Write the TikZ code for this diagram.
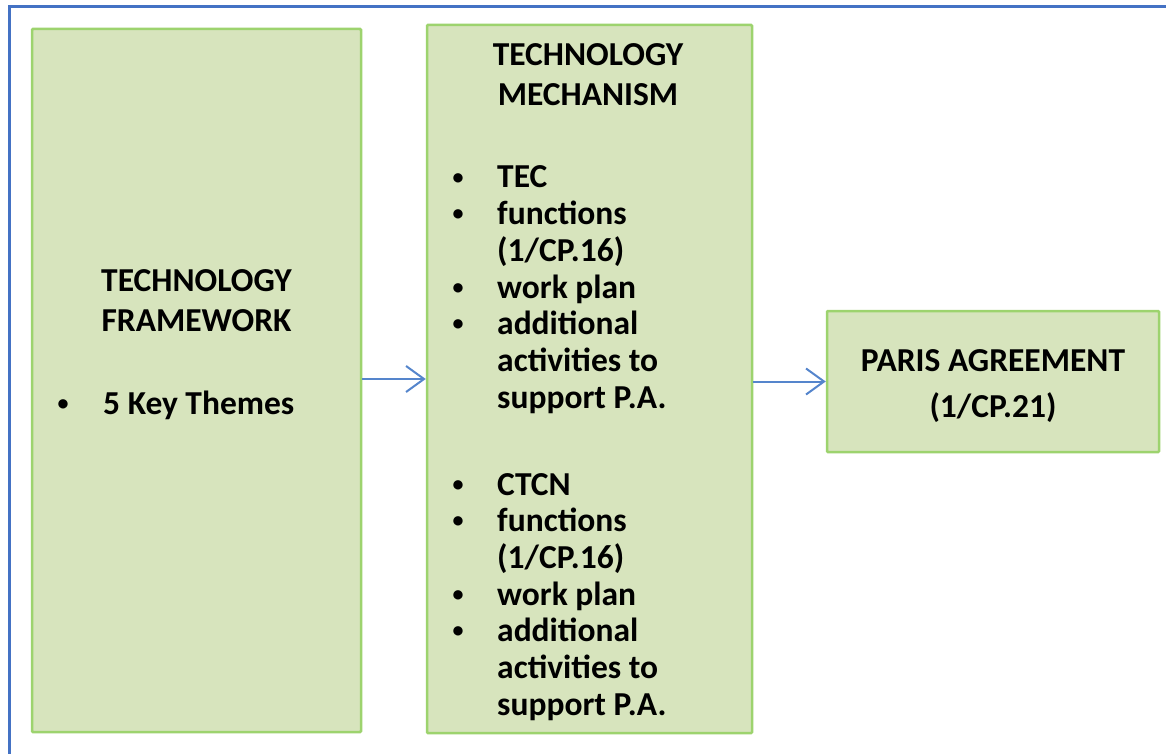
\documentclass[tikz,border=0pt]{standalone}
\usepackage{fontspec}
\setmainfont{Carlito}
\usetikzlibrary{arrows.meta}
\definecolor{gfill}{HTML}{D7E4BD}
\definecolor{gline}{HTML}{9DD36E}
\definecolor{frameblue}{HTML}{4472C4}
\definecolor{arrblue}{HTML}{5585CC}
\begin{document}
\begin{tikzpicture}[x=1pt,y=-1pt,
  gbox/.style={draw=gline, fill=gfill, line width=2.5pt, rounded corners=1pt, inner sep=0pt},
  txt/.style={font=\fontsize{33.5}{40}\selectfont\bfseries, inner sep=0pt, anchor=base},
  ltxt/.style={txt, anchor=base west},
  bul/.style={font=\fontsize{22}{24}\selectfont\bfseries, inner sep=0pt, anchor=base},
  arr/.style={draw=arrblue, line width=2pt, -{Straight Barb[length=18pt,width=26pt,line width=2pt]}}]
\useasboundingbox (0,0) rectangle (1166,754);
% frame
\draw[frameblue, line width=3pt] (9.5,754) -- (9.5,6.5) -- (1166,6.5);
% boxes
\node[gbox, minimum width=329pt, minimum height=703pt] (fw) at (196.5,380.5) {};
\node[gbox, minimum width=325pt, minimum height=708pt] (mech) at (589.5,379) {};
\node[gbox, minimum width=332pt, minimum height=141pt] (pa) at (993,381.5) {};
% box 1 text
\node[txt] (fw1) at (196.5,291) {TECHNOLOGY};
\node[txt] (fw2) at (196.5,331) {FRAMEWORK};
\node[bul] (fwb) at (63,410) {•};
\node[ltxt] (fw3) at (103,414) {5 Key Themes};
% box 2 text
\node[txt] (m1) at (588,66) {TECHNOLOGY};
\node[txt] (m2) at (588,106) {MECHANISM};
\node[bul] (mb1) at (458,184) {•};
\node[ltxt] (m3) at (497,188) {TEC};
\node[bul] (mb2) at (458,220.7) {•};
\node[ltxt] (m4) at (497,224.7) {functions};
\node[ltxt] (m5) at (497,261.4) {(1/CP.16)};
\node[bul] (mb3) at (458,294.1) {•};
\node[ltxt] (m6) at (497,298.1) {work plan};
\node[bul] (mb4) at (458,330.8) {•};
\node[ltxt] (m7) at (497,334.8) {additional};
\node[ltxt] (m8) at (497,371.5) {activities to};
\node[ltxt] (m9) at (497,408.2) {support P.A.};
\node[bul] (mb5) at (458,491) {•};
\node[ltxt] (m10) at (497,495) {CTCN};
\node[bul] (mb6) at (458,527.7) {•};
\node[ltxt] (m11) at (497,531.7) {functions};
\node[ltxt] (m12) at (497,568.4) {(1/CP.16)};
\node[bul] (mb7) at (458,601.1) {•};
\node[ltxt] (m13) at (497,605.1) {work plan};
\node[bul] (mb8) at (458,637.8) {•};
\node[ltxt] (m14) at (497,641.8) {additional};
\node[ltxt] (m15) at (497,678.5) {activities to};
\node[ltxt] (m16) at (497,715.2) {support P.A.};
% box 3 text
\node[txt] (p1) at (993,371) {PARIS AGREEMENT};
\node[txt] (p2) at (993,417) {(1/CP.21)};
% arrows
\draw[arr] (fw.east |- mech.west) -- (mech.west);
\draw[arr] (mech.east |- pa.west) -- (pa.west);
\end{tikzpicture}
\end{document}
